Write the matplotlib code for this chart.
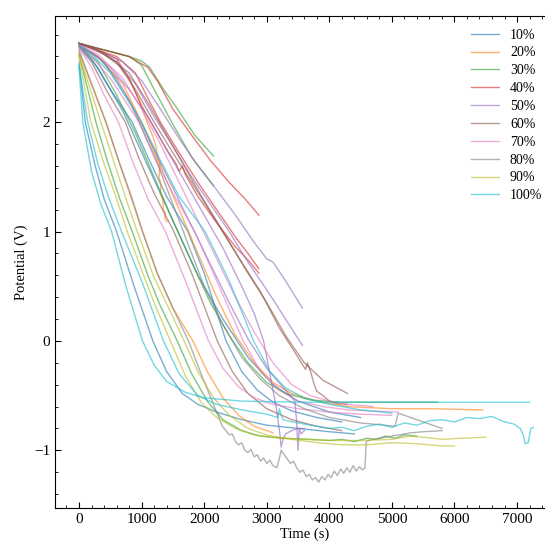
import matplotlib
matplotlib.use("Agg")
import matplotlib.pyplot as plt
from matplotlib.ticker import MultipleLocator, AutoMinorLocator

# discharge runs, grouped by state of charge (time in s, potential in V)
# 10%
b1_t = [0, 100, 250, 400, 600, 880, 1180, 1400, 1650, 1900, 2200, 2600, 3000, 3500, 4000, 4400]
b1_v = [2.55, 2.00, 1.62, 1.30, 1.00, 0.50, 0.00, -0.28, -0.48, -0.58, -0.65, -0.72, -0.77, -0.80, -0.83, -0.85]
b2_t = [0, 200, 500, 850, 1100, 1400, 1740, 2000, 2350, 2600, 2850, 3100, 3400, 3800, 4200]
b2_v = [2.70, 2.58, 2.30, 2.00, 1.68, 1.32, 1.00, 0.62, 0.00, -0.28, -0.45, -0.56, -0.64, -0.70, -0.74]
b3_t = [0, 300, 700, 1100, 1500, 1900, 2300, 2700, 3100, 3500, 4000, 4500]
b3_v = [2.70, 2.50, 2.10, 1.60, 1.10, 0.60, 0.20, -0.15, -0.40, -0.55, -0.65, -0.70]
# 20%
o1_t = [0, 430, 650, 850, 1015, 1250, 1500, 1820, 2050, 2300, 2550, 2800, 3100]
o1_v = [2.64, 2.00, 1.62, 1.28, 1.00, 0.62, 0.30, 0.00, -0.28, -0.52, -0.68, -0.78, -0.84]
o2_t = [0, 300, 600, 800, 975, 1100, 1180, 1230, 1260, 1295, 1280, 1310, 1300, 1335, 1350, 1380, 1370, 1405]
o2_v = [2.72, 2.65, 2.55, 2.40, 2.18, 1.98, 1.87, 1.78, 1.66, 1.62, 1.50, 1.42, 1.35, 1.30, 1.20, 1.16, 1.12, 1.09]
o3_t = [0, 300, 700, 1000, 1300, 1600, 1900, 2200, 2500, 2800, 3100, 3400, 3800, 4300, 5000, 5600, 6450]
o3_v = [2.70, 2.60, 2.35, 2.00, 1.60, 1.20, 0.80, 0.40, 0.05, -0.20, -0.38, -0.48, -0.55, -0.60, -0.62, -0.62, -0.63]
# 30%
g1_t = [0, 270, 450, 650, 850, 1100, 1300, 1570, 1800, 2050, 2300, 2600, 2900, 3300, 3700, 4000,
        4200, 4400, 4600, 4750, 4900, 5050, 5200, 5400]
g1_v = [2.62, 2.00, 1.65, 1.30, 1.00, 0.60, 0.32, 0.00, -0.30, -0.55, -0.72, -0.82, -0.87, -0.89, -0.90, -0.91,
        -0.90, -0.92, -0.89, -0.90, -0.87, -0.89, -0.86, -0.87]
g2_t = [0, 400, 800, 1000, 1130, 1350, 1550, 1850, 2150]
g2_v = [2.72, 2.66, 2.60, 2.56, 2.50, 2.30, 2.14, 1.88, 1.69]
g3_t = [0, 400, 800, 1000, 1200, 1500, 1800, 2150]
g3_v = [2.72, 2.66, 2.60, 2.52, 2.30, 1.98, 1.68, 1.42]
g4_t = [0, 300, 600, 900, 1200, 1500, 1800, 2100, 2400, 2700, 3000, 3300, 3700, 4200, 5000, 5730]
g4_v = [2.70, 2.55, 2.25, 1.90, 1.50, 1.10, 0.72, 0.35, 0.05, -0.20, -0.38, -0.48, -0.54, -0.56, -0.56, -0.56]
# 40%
r1_t = [0, 400, 800, 1100, 1250, 1500, 1800, 2100, 2400, 2650, 2875]
r1_v = [2.72, 2.66, 2.60, 2.50, 2.38, 2.12, 1.88, 1.65, 1.45, 1.30, 1.15]
r2_t = [0, 300, 600, 900, 1100, 1300, 1600, 1900, 2200, 2500, 2700, 2875]
r2_v = [2.72, 2.66, 2.60, 2.45, 2.22, 2.00, 1.72, 1.45, 1.20, 0.95, 0.80, 0.66]
r3_t = [0, 300, 600, 800, 1000, 1200, 1400, 1550, 1600, 1650, 1700, 1900, 2200, 2500, 2700, 2875]
r3_v = [2.72, 2.66, 2.58, 2.40, 2.15, 1.95, 1.75, 1.62, 1.55, 1.60, 1.52, 1.32, 1.08, 0.86, 0.74, 0.62]
# 50%
p1_t = [0, 300, 700, 1000, 1300, 1600, 1900, 2200, 2500, 2800, 3000, 3100, 3300, 3570]
p1_v = [2.72, 2.66, 2.55, 2.38, 2.12, 1.85, 1.60, 1.38, 1.15, 0.90, 0.75, 0.72, 0.55, 0.30]
p2_t = [0, 300, 600, 900, 1200, 1500, 1800, 2100, 2400, 2700, 2960, 3100, 3300, 3570]
p2_v = [2.72, 2.66, 2.55, 2.35, 2.05, 1.78, 1.50, 1.25, 1.00, 0.72, 0.50, 0.38, 0.20, -0.04]
p3_t = [0, 200, 500, 800, 1100, 1400, 1700, 2000, 2300, 2600, 2800, 2950, 3050, 3150, 3210, 3230,
        3260, 3300, 3400, 3500, 3600]
p3_v = [2.72, 2.64, 2.50, 2.30, 2.05, 1.75, 1.45, 1.15, 0.85, 0.50, 0.25, 0.00, -0.30, -0.60, -0.85, -0.97,
        -0.90, -0.85, -0.82, -0.80, -0.80]
p4_t = [0, 300, 600, 900, 1200, 1500, 1800, 2100, 2400, 2700, 3000, 3300, 3450, 3480, 3500, 3520, 3550, 3600]
p4_v = [2.70, 2.60, 2.40, 2.10, 1.75, 1.40, 1.05, 0.70, 0.35, 0.02, -0.25, -0.45, -0.55, -0.75, -1.00, -0.80,
        -0.85, -0.82]
# 60%
br1_t = [0, 200, 450, 740, 950, 1200, 1515, 1800, 2210, 2450, 2700, 3000, 3400, 3800, 4200]
br1_v = [2.68, 2.55, 2.28, 2.00, 1.68, 1.35, 1.00, 0.62, 0.00, -0.28, -0.48, -0.62, -0.72, -0.78, -0.82]
br2_t = [0, 300, 600, 900, 1200, 1500, 1800, 2100, 2400, 2700, 3000, 3300, 3600, 3900, 4290]
br2_v = [2.72, 2.66, 2.55, 2.30, 2.00, 1.72, 1.45, 1.18, 0.90, 0.62, 0.35, 0.05, -0.20, -0.36, -0.48]
br3_t = [0, 400, 800, 1100, 1400, 1700, 2000, 2300, 2600, 2900, 3200, 3500, 3620, 3650, 3700, 3760,
         3800, 3900, 4000, 4100, 4290]
br3_v = [2.72, 2.62, 2.45, 2.18, 1.88, 1.58, 1.28, 1.00, 0.72, 0.45, 0.12, -0.15, -0.26, -0.20, -0.28, -0.40,
         -0.46, -0.50, -0.55, -0.57, -0.58]
# 70%
pk1_t = [0, 200, 400, 630, 850, 1100, 1380, 1700, 2070, 2300, 2550, 2800, 3100, 3500, 4000, 4500, 5000]
pk1_v = [2.68, 2.50, 2.25, 2.00, 1.65, 1.30, 1.00, 0.55, 0.00, -0.25, -0.42, -0.52, -0.58, -0.62, -0.65, -0.67, -0.68]
pk2_t = [0, 200, 500, 960, 1200, 1500, 1850, 2200, 2625, 2900, 3200, 3500, 3900, 4300, 4700, 5100]
pk2_v = [2.70, 2.60, 2.40, 2.00, 1.68, 1.35, 1.00, 0.55, 0.00, -0.28, -0.45, -0.55, -0.60, -0.63, -0.64, -0.65]
pk3_t = [0, 300, 700, 1000, 1300, 1600, 1900, 2200, 2500, 2800, 3100, 3400, 3700, 4000, 4300, 4700]
pk3_v = [2.70, 2.62, 2.40, 2.12, 1.80, 1.45, 1.10, 0.75, 0.40, 0.08, -0.20, -0.40, -0.50, -0.55, -0.58, -0.60]
# 80%
gy1_t = [0, 430, 650, 850, 1015, 1250, 1500, 1750, 1950, 2150, 2290, 2350, 2400, 2450, 2500, 2550,
         2600, 2650, 2700, 2750, 2800, 2850, 2900, 2950, 3000, 3050, 3100, 3160, 3200, 3230, 3280, 3330,
         3380, 3430, 3480, 3530, 3580, 3630, 3680, 3730, 3780, 3830, 3880, 3930, 3980, 4030, 4080, 4130,
         4180, 4230, 4280, 4330, 4380, 4430, 4480, 4530, 4570, 4590, 4700, 4900, 5100, 5300, 5500, 5800]
gy1_v = [2.66, 2.00, 1.62, 1.30, 1.00, 0.62, 0.30, 0.00, -0.30, -0.58, -0.78, -0.82, -0.86, -0.85, -0.92, -0.95,
         -0.93, -1.00, -1.02, -0.99, -1.06, -1.04, -1.10, -1.07, -1.12, -1.09, -1.14, -1.16, -1.08, -1.00, -1.04, -1.08,
         -1.12, -1.10, -1.16, -1.20, -1.18, -1.24, -1.22, -1.27, -1.25, -1.29, -1.24, -1.27, -1.22, -1.25, -1.19, -1.23,
         -1.17, -1.21, -1.16, -1.20, -1.14, -1.19, -1.15, -1.18, -1.16, -0.92, -0.90, -0.88, -0.86, -0.84, -0.83, -0.82]
gy2_t = [0, 400, 800, 1200, 1600, 2000, 2300, 2600, 2900, 3200, 3600, 4000, 4500, 5050, 5100, 5400, 5800]
gy2_v = [2.70, 2.55, 2.20, 1.70, 1.10, 0.50, 0.15, -0.15, -0.35, -0.50, -0.62, -0.70, -0.75, -0.78, -0.66, -0.72, -0.80]
# 90%
ol1_t = [0, 190, 400, 600, 770, 1000, 1200, 1460, 1700, 1950, 2200, 2500, 2800, 3200, 3600, 4000,
         4500, 5000, 5300, 5500, 5800, 6100, 6500]
ol1_v = [2.60, 2.00, 1.62, 1.30, 1.00, 0.65, 0.35, 0.00, -0.32, -0.56, -0.70, -0.80, -0.86, -0.89, -0.90, -0.91,
         -0.91, -0.90, -0.87, -0.88, -0.90, -0.89, -0.88]
ol2_t = [0, 350, 550, 750, 930, 1200, 1450, 1680, 1900, 2150, 2400, 2700, 3000, 3400, 3800, 4200,
         4600, 5000, 5400, 5800, 6000]
ol2_v = [2.62, 2.00, 1.65, 1.30, 1.00, 0.58, 0.28, 0.00, -0.28, -0.52, -0.68, -0.80, -0.86, -0.90, -0.93, -0.95,
         -0.95, -0.93, -0.94, -0.96, -0.96]
# 100%
c1_t = [0, 60, 200, 350, 520, 750, 1015, 1200, 1400, 1700, 2000, 2600, 3500, 5000, 7200]
c1_v = [2.50, 2.00, 1.55, 1.25, 1.00, 0.50, 0.00, -0.22, -0.37, -0.47, -0.52, -0.55, -0.56, -0.56, -0.56]
c2_t = [0, 140, 300, 480, 680, 1000, 1350, 1600, 1900, 2200, 2600, 3000, 3180, 3200, 3260, 3400,
        3600, 3800, 4000, 4200, 4400, 4600, 4800, 5000, 5200, 5400, 5600, 5800, 6000, 6200, 6400, 6600,
        6800, 6950, 7050, 7100, 7130, 7180, 7220, 7260]
c2_v = [2.52, 2.00, 1.62, 1.30, 1.00, 0.55, 0.00, -0.30, -0.50, -0.58, -0.63, -0.67, -0.70, -0.62, -0.72, -0.74,
        -0.76, -0.78, -0.80, -0.79, -0.82, -0.78, -0.76, -0.79, -0.75, -0.77, -0.73, -0.72, -0.74, -0.70, -0.71, -0.69,
        -0.74, -0.76, -0.80, -0.86, -0.94, -0.93, -0.80, -0.79]
c3_t = [0, 200, 500, 1000, 1300, 1600, 2015, 2400, 2790, 3050, 3300, 3600, 4000, 4500, 5000]
c3_v = [2.70, 2.62, 2.45, 2.00, 1.65, 1.32, 1.00, 0.55, 0.00, -0.28, -0.43, -0.52, -0.58, -0.63, -0.66]

labels = ['10%', '20%', '30%', '40%', '50%', '60%', '70%', '80%', '90%', '100%']
colors = ['tab:blue', 'tab:orange', 'tab:green', 'tab:red', 'tab:purple',
          'tab:brown', 'tab:pink', 'tab:gray', 'tab:olive', 'tab:cyan']
runs = [
    [(b1_t, b1_v), (b2_t, b2_v), (b3_t, b3_v)],
    [(o1_t, o1_v), (o2_t, o2_v), (o3_t, o3_v)],
    [(g1_t, g1_v), (g2_t, g2_v), (g3_t, g3_v), (g4_t, g4_v)],
    [(r1_t, r1_v), (r2_t, r2_v), (r3_t, r3_v)],
    [(p1_t, p1_v), (p2_t, p2_v), (p3_t, p3_v), (p4_t, p4_v)],
    [(br1_t, br1_v), (br2_t, br2_v), (br3_t, br3_v)],
    [(pk1_t, pk1_v), (pk2_t, pk2_v), (pk3_t, pk3_v)],
    [(gy1_t, gy1_v), (gy2_t, gy2_v)],
    [(ol1_t, ol1_v), (ol2_t, ol2_v)],
    [(c1_t, c1_v), (c2_t, c2_v), (c3_t, c3_v)],
]

plt.rcParams['font.family'] = ['Liberation Serif', 'DejaVu Serif']
plt.rcParams['axes.unicode_minus'] = True

fig = plt.figure(figsize=(5.45, 5.43), dpi=100)
# axes run slightly past the right edge of the picture, as in the original crop
ax = fig.add_axes([0.101, 0.0645, 0.917, 0.906])

for label, color, group in zip(labels, colors, runs):
    for i, (t, v) in enumerate(group):
        ax.plot(t, v, color=color, alpha=0.6, lw=1.0, label=label if i == 0 else None)

ax.set_xlim(-383, 7604)
ax.set_ylim(-1.527, 2.97)
ax.xaxis.set_major_locator(MultipleLocator(1000))
ax.yaxis.set_major_locator(MultipleLocator(1))
ax.xaxis.set_minor_locator(AutoMinorLocator(5))
ax.yaxis.set_minor_locator(AutoMinorLocator(5))
ax.tick_params(which='both', direction='in', top=True, right=True, labelsize=11)
ax.tick_params(which='major', length=4)
ax.tick_params(which='minor', length=2)

ax.set_xlabel('Time (s)', fontsize=10.5, labelpad=1)
ax.set_ylabel('Potential (V)', fontsize=10.5)
ax.legend(loc='upper right', frameon=False, fontsize=10, labelspacing=0.35)

fig.savefig('out.png', dpi=100)
